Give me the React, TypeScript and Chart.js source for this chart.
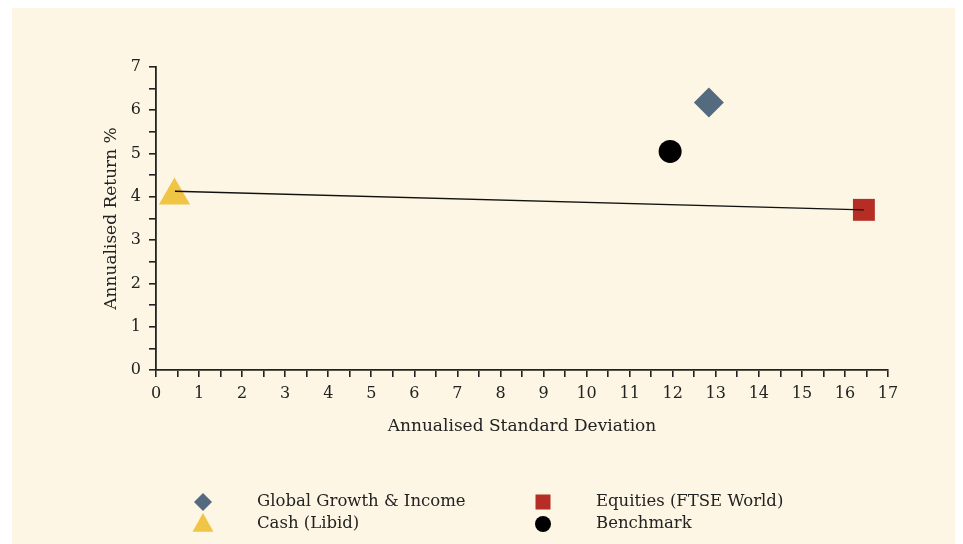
import React, { useEffect, useRef } from 'react';
import { Chart, registerables } from 'chart.js';
Chart.register(...registerables);

const FONT = "'DejaVu Serif', serif";
const TEXT = '#222222';

// Data
const seriesNames = ['Global Growth & Income', 'Equities (FTSE World)', 'Cash (Libid)', 'Benchmark'];
const stdDev = [12.84, 16.44, 0.43, 11.94];
const annReturn = [6.18, 3.70, 4.03, 5.05];
const seriesColors = ['#546a7f', '#b52d24', '#f0c444', '#000000'];
const seriesStyles = ['rectRot', 'rect', 'triangle', 'circle'];
const seriesRadius = [15, 15.5, 18, 11.5];
const lineX = [0.44, 16.44];
const lineY = [4.13, 3.70];
const xTitle = 'Annualised Standard Deviation';
const yTitle = 'Annualised Return %';

function drawMarker(ctx: CanvasRenderingContext2D, style: string, x: number, y: number, r: number, color: string) {
  ctx.save();
  ctx.fillStyle = color;
  ctx.beginPath();
  if (style === 'rectRot') {
    ctx.moveTo(x, y - r); ctx.lineTo(x + r, y); ctx.lineTo(x, y + r); ctx.lineTo(x - r, y);
  } else if (style === 'rect') {
    ctx.rect(x - r, y - r, 2 * r, 2 * r);
  } else if (style === 'triangle') {
    ctx.moveTo(x, y - r); ctx.lineTo(x + r * 0.95, y + r * 0.7); ctx.lineTo(x - r * 0.95, y + r * 0.7);
  } else {
    ctx.arc(x, y, r, 0, Math.PI * 2);
  }
  ctx.closePath();
  ctx.fill();
  ctx.restore();
}

export default function App() {
  const ref = useRef<HTMLCanvasElement>(null);
  useEffect(() => {
    if (!ref.current) return;
    const legendPlugin = {
      id: 'customLegend',
      afterDraw(chart: any) {
        const ctx = chart.ctx as CanvasRenderingContext2D;
        const cols = [[0, 2], [1, 3]];
        const markerX = [191, 531];
        const textX = [245, 584];
        const rowY = [494, 516];
        const legendR = [9, 7.5, 11, 8];
        cols.forEach((col, ci) => {
          col.forEach((si, ri) => {
            drawMarker(ctx, seriesStyles[si], markerX[ci], rowY[ri], legendR[si], seriesColors[si]);
            ctx.save();
            ctx.fillStyle = TEXT;
            ctx.font = `16.5px ${FONT}`;
            ctx.textBaseline = 'middle';
            ctx.textAlign = 'left';
            ctx.fillText(seriesNames[si], textX[ci], rowY[ri]);
            ctx.restore();
          });
        });
      },
    };
    const datasets: any[] = [
      {
        label: 'line',
        data: lineX.map((x, i) => ({ x, y: lineY[i] })),
        showLine: true,
        borderColor: '#111111',
        borderWidth: 1.3,
        pointRadius: 0,
        fill: false,
      },
      ...seriesNames.map((name, i) => ({
        label: name,
        data: [{ x: stdDev[i], y: annReturn[i] }],
        pointStyle: seriesStyles[i],
        pointRadius: seriesRadius[i],
        pointHoverRadius: seriesRadius[i],
        backgroundColor: seriesColors[i],
        borderColor: seriesColors[i],
        pointBorderWidth: 0,
      })),
    ];
    const axisCommon = {
      type: 'linear' as const,
      grid: { drawOnChartArea: false, drawTicks: true, tickLength: 7, color: TEXT, lineWidth: 1.6 },
      border: { display: true, color: TEXT, width: 1.8 },
    };
    const chart = new Chart(ref.current, {
      type: 'scatter',
      data: { datasets },
      options: {
        animation: false,
        responsive: true,
        maintainAspectRatio: false,
        layout: { padding: { left: 0, top: 59, right: 69, bottom: 0 } },
        plugins: { legend: { display: false }, tooltip: { enabled: false } },
        scales: {
          x: {
            ...axisCommon,
            min: 0,
            max: 17,
            ticks: {
              stepSize: 0.5,
              autoSkip: false,
              maxRotation: 0,
              padding: 7,
              color: TEXT,
              font: { family: FONT, size: 16 },
              callback: (v: any) => (Number.isInteger(v) ? String(v) : ''),
            },
            title: { display: true, text: xTitle, color: TEXT, font: { family: FONT, size: 17 }, padding: { top: 4, bottom: 107 } },
            afterFit: (s: any) => { s.height = 174; },
          },
          y: {
            ...axisCommon,
            min: 0,
            max: 7,
            ticks: {
              stepSize: 0.5,
              autoSkip: false,
              padding: 8,
              color: TEXT,
              font: { family: FONT, size: 16 },
              callback: (v: any) => (Number.isInteger(v) ? String(v) : ''),
            },
            title: { display: true, text: yTitle, color: TEXT, font: { family: FONT, size: 17 }, padding: { top: 89, bottom: 4 } },
            afterFit: (s: any) => { s.width = 144; },
          },
        },
      },
      plugins: [legendPlugin],
    } as any);
    return () => chart.destroy();
  }, []);
  return (
    <div style={{ marginLeft: 4, width: 945, height: 536, background: '#fdf6e4', position: 'relative' }}>
      <canvas ref={ref} />
    </div>
  );
}
